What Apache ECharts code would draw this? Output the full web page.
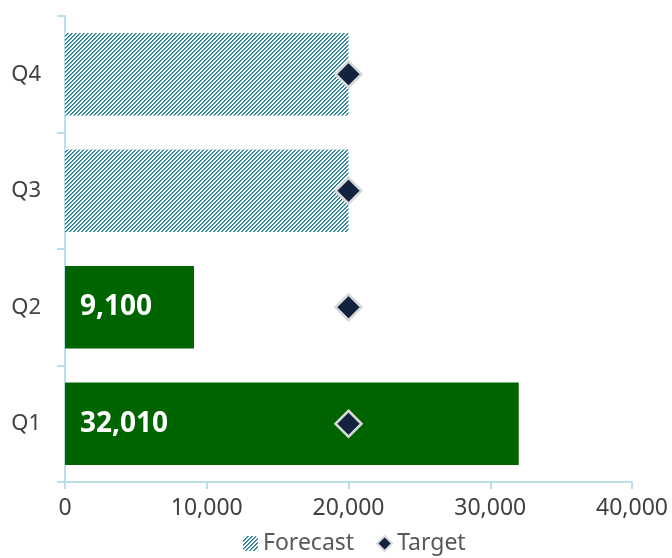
<!DOCTYPE html>
<html>
<head>
<meta charset="utf-8">
<script src="https://cdn.jsdelivr.net/npm/echarts@6/dist/echarts.min.js"></script>
<style>
  html, body { margin: 0; padding: 0; background: #fff; }
  #chart { width: 672px; height: 558px; }
</style>
</head>
<body>
<div id="chart"></div>
<script>
// Quarterly actuals vs. forecast, with the target per quarter
const quarters = ['Q1', 'Q2', 'Q3', 'Q4'];
const actualValues = [32010, 9100, null, null];
const forecastValues = [null, null, 20000, 20000];
const targetValues = [20000, 20000, 20000, 20000];
const xTicks = { min: 0, max: 40000, interval: 10000 };

const FONT = '"Noto Sans", "Open Sans", sans-serif';
const AXIS_COLOR = '#b9dfea';

// Diagonal "/" hatch fill for forecast bars, drawn pixel by pixel
function hatchPattern() {
  const s = 4;
  const c = document.createElement('canvas');
  c.width = s; c.height = s;
  const g = c.getContext('2d');
  g.fillStyle = '#ffffff';
  g.fillRect(0, 0, s, s);
  for (let x = 0; x < s; x++) {
    for (let y = 0; y < s; y++) {
      const d = (x + y) % s;
      if (d === 0) { g.fillStyle = '#17798a'; g.fillRect(x, y, 1, 1); }
      if (d === 1) { g.fillStyle = 'rgba(23,121,138,0.7)'; g.fillRect(x, y, 1, 1); }
    }
  }
  return c;
}

const fmt = v => Number(v).toLocaleString('en-US');

const chart = echarts.init(document.getElementById('chart'), null, { renderer: 'canvas' });

chart.setOption({
  animation: false,
  textStyle: { fontFamily: FONT },
  grid: { left: 65, right: 40, top: 16, bottom: 76, containLabel: false },
  legend: {
    bottom: -2,
    left: 238,
    data: ['Forecast', 'Target'],
    itemWidth: 15,
    itemHeight: 15,
    itemGap: 22,
    textStyle: { fontSize: 23, color: '#595959', fontFamily: FONT }
  },
  xAxis: {
    type: 'value',
    min: xTicks.min,
    max: xTicks.max,
    interval: xTicks.interval,
    splitLine: { show: false },
    axisLine: { show: true, lineStyle: { color: AXIS_COLOR, width: 2 } },
    axisTick: { show: true, length: 7, lineStyle: { color: AXIS_COLOR, width: 2 } },
    axisLabel: {
      fontSize: 23,
      color: '#404040',
      margin: 15,
      formatter: v => fmt(v)
    }
  },
  yAxis: {
    type: 'category',
    data: quarters,
    axisLine: { show: true, lineStyle: { color: AXIS_COLOR, width: 2 } },
    axisTick: { show: true, length: 8, lineStyle: { color: AXIS_COLOR, width: 2 } },
    axisLabel: { fontSize: 22, color: '#404040', margin: 24 }
  },
  series: [
    {
      name: 'Actual',
      type: 'bar',
      stack: 'q',
      data: actualValues,
      barCategoryGap: '29%',
      itemStyle: { color: '#006400' },
      label: {
        show: true,
        position: 'insideLeft',
        distance: 15,
        color: '#ffffff',
        fontSize: 28,
        fontWeight: 'bold',
        fontFamily: FONT,
        formatter: p => fmt(p.value)
      }
    },
    {
      name: 'Forecast',
      type: 'bar',
      stack: 'q',
      data: forecastValues,
      barCategoryGap: '29%',
      itemStyle: { color: { image: hatchPattern(), repeat: 'repeat' } }
    },
    {
      name: 'Target',
      type: 'scatter',
      data: targetValues,
      symbol: 'diamond',
      symbolSize: 26,
      z: 5,
      itemStyle: {
        color: '#13233f',
        borderColor: '#d9d9d9',
        borderWidth: 2.5,
        opacity: 1
      }
    }
  ]
});
</script>
</body>
</html>
